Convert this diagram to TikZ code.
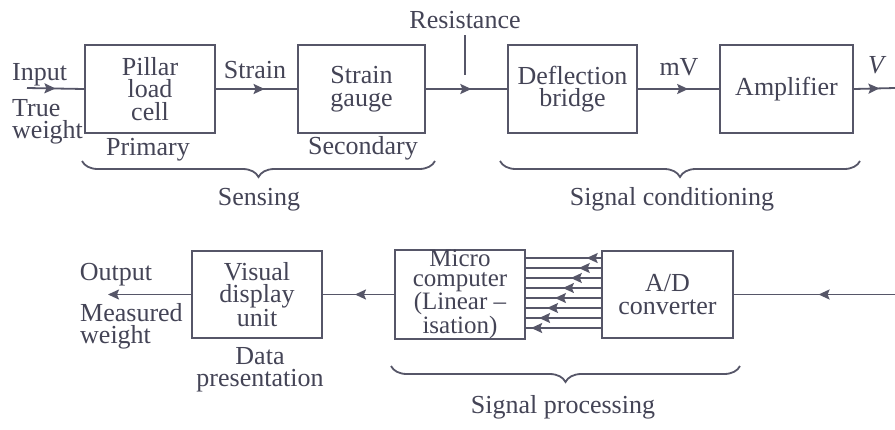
\documentclass[tikz,border=0pt]{standalone}
\usepackage{fontspec}
\setmainfont{Liberation Serif}
\usetikzlibrary{arrows.meta,decorations.pathreplacing,decorations.markings}
\definecolor{ink}{RGB}{68,68,86}
\definecolor{lineclr}{RGB}{86,86,104}
\begin{document}
\begin{tikzpicture}[x=1pt,y=-1pt,
  every node/.style={text=ink,font=\fontsize{26}{22.5}\selectfont,inner sep=0pt},
  block/.style={draw=lineclr,line width=2.2pt,align=center},
  wire/.style={draw=lineclr,line width=1.8pt},
  bus/.style={draw=lineclr,line width=1.4pt},
  midarrow/.style={postaction={decorate},decoration={markings,
    mark=at position #1 with {\arrow{Stealth[length=11pt,width=10pt,inset=2pt]}}}},
  brace/.style={draw=lineclr,line width=1.8pt,decorate,
    decoration={brace,mirror,amplitude=16pt}},
  label/.style={align=center}
]
\path[use as bounding box,fill=white] (0,0) rectangle (895,429);

% ---- sensing and signal conditioning chain ----
\node[block,minimum width=130pt,minimum height=88pt] (pillar) at (150,89) {Pillar\\load\\cell};
\node[block,minimum width=127pt,minimum height=88pt] (gauge) at (361.5,89) {Strain\\gauge};
\node[block,minimum width=129pt,minimum height=88pt] (bridge) at (572.5,89) {Deflection\\bridge};
\node[block,minimum width=133pt,minimum height=88pt] (amp) at (786.5,89) {Amplifier};

\node[anchor=base west] (inp) at (12,80) {Input};
\node[anchor=north west,align=left] (truew) at (12,99) {True\\weight};
\node[anchor=base] (strain) at (255,78) {Strain};
\node[anchor=base] (primary) at (148,155) {Primary};
\node[anchor=base] (secondary) at (363,154) {Secondary};
\node[anchor=base] (res) at (465,28) {Resistance};
\node[anchor=base] (mv) at (679,75) {mV};
\node[anchor=base] (vout) at (876,73) {\itshape V};

\coordinate (inA) at (27,88);
\coordinate (outA) at (895,88);
\draw[wire,midarrow=0.5] (inA) -- (pillar.west);
\draw[wire,midarrow=0.6] (pillar.east) -- (gauge.west);
\draw[wire,midarrow=0.56] (gauge.east) -- (bridge.west);
\draw[wire,midarrow=0.62] (bridge.east) -- (amp.west);
\draw[wire,midarrow=0.62] (amp.east) -- (outA);
\draw[wire] (res.south |- 0,35) -- ++(0,40);

\draw[brace] (82,161) -- (435,161);
\node[anchor=base] (sensing) at (259,205) {Sensing};
\draw[brace] (500,161) -- (860,161);
\node[anchor=base] (sigcond) at (672,205) {Signal conditioning};

% ---- signal processing and data presentation chain ----
\node[block,minimum width=130pt,minimum height=87pt] (visual) at (257,294.5) {Visual\\display\\unit};
\node[block,minimum width=130pt,minimum height=87pt,
  font=\fontsize{25}{19.5}\selectfont] (micro) at (460,294.5) {Micro\\computer\\(Linear –\\isation)};
\node[block,minimum width=131pt,minimum height=87pt] (ad) at (667.5,294.5) {A/D\\converter};

\node[anchor=base] (outp) at (116,280) {Output};
\node[anchor=north west,align=left] (measw) at (80,303) {Measured\\weight};
\node[anchor=north,label] (datap) at (260,347) {Data\\presentation};

\coordinate (outB) at (108,294.5);
\coordinate (inB) at (895,294.5);
\draw[wire,-{Stealth[length=11pt,width=10pt,inset=2pt]}] (visual.west) -- (outB);
\draw[wire,midarrow=0.55] (micro.west) -- (visual.east);
\draw[wire,midarrow=0.475] (inB) -- (ad.east);
\foreach \i in {0,...,7} {
  \pgfmathsetmacro\yy{258+10*\i}
  \pgfmathsetmacro\pp{0.19+0.106*\i}
  \draw[bus,midarrow=\pp] (ad.west |- 0,\yy) -- (micro.east |- 0,\yy);
}

\draw[brace] (391,366) -- (740,366);
\node[anchor=base] (sigproc) at (563,413) {Signal processing};
\end{tikzpicture}
\end{document}
